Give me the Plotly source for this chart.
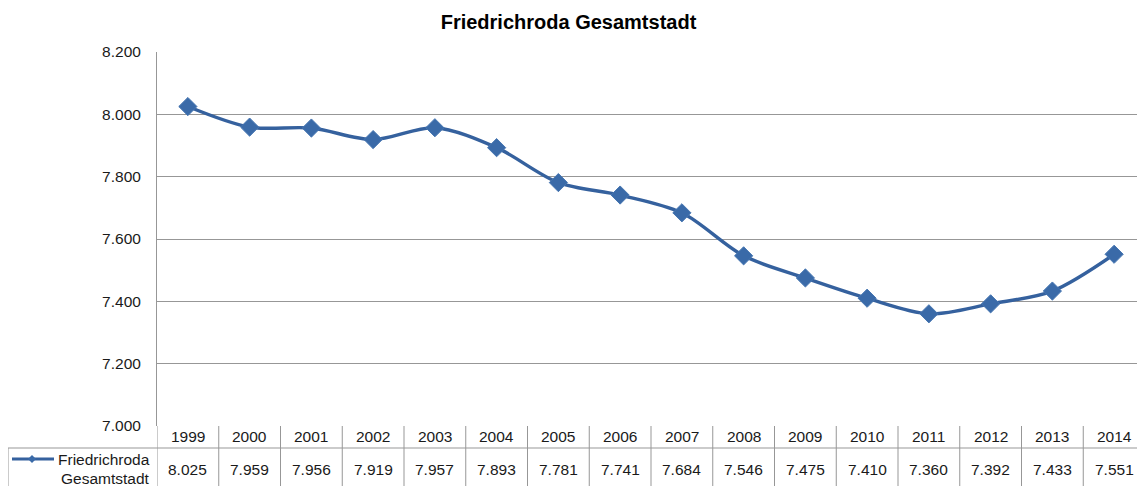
import plotly.graph_objects as go

years = ["1999", "2000", "2001", "2002", "2003", "2004", "2005", "2006",
         "2007", "2008", "2009", "2010", "2011", "2012", "2013", "2014"]
values = [8025, 7959, 7956, 7919, 7957, 7893, 7781, 7741,
          7684, 7546, 7475, 7410, 7360, 7392, 7433, 7551]
series_name = "Friedrichroda Gesamtstadt"
title_text = "Friedrichroda Gesamtstadt"

# page offset (default body margin of the html page)
OFF = 8
W, H = 1145 - OFF, 486 - OFF
PL, PT, PB = 157, 52, 426      # plot area edges in page pixels
L, R, T = PL - OFF, 0, PT - OFF
B = H - (PB - OFF)
plot_h = H - T - B
plot_w = W - L - R

line_color = "#35619E"
marker_color = "#3A6AA8"
grid_color = "#979797"
font_family = "Liberation Sans, Arial, sans-serif"
fs = 15.5

n = len(years)
xs = list(range(n))

fig = go.Figure()
fig.add_trace(go.Scatter(
    x=xs, y=values, mode="lines+markers",
    line=dict(color=line_color, width=3.4, shape="spline", smoothing=0.9),
    marker=dict(symbol="diamond", size=14, color=marker_color,
                line=dict(color="#4676B2", width=1)),
    name=series_name, showlegend=False, hoverinfo="y"))

def py(page_y):
    return (PB - page_y) / plot_h

def pxx(page_x):
    return (page_x - PL) / plot_w

shapes = []
annotations = []
y_top = py(426)
y_mid = py(448)
y_bot = py(486)
for i in range(n + 1):
    shapes.append(dict(type="line", xref="x", yref="paper",
                       x0=i - 0.5, x1=i - 0.5, y0=y_top, y1=y_bot,
                       line=dict(color=grid_color, width=1)))
shapes.append(dict(type="line", xref="paper", yref="paper",
                   x0=pxx(8), x1=1, y0=y_mid, y1=y_mid,
                   line=dict(color=grid_color, width=1)))
shapes.append(dict(type="line", xref="paper", yref="paper",
                   x0=pxx(8), x1=pxx(8), y0=y_mid, y1=y_bot,
                   line=dict(color=grid_color, width=1)))
shapes.append(dict(type="line", xref="paper", yref="paper",
                   x0=pxx(12), x1=pxx(54), y0=py(459), y1=py(459),
                   line=dict(color=line_color, width=3)))
shapes.append(dict(type="path", xref="paper", yref="paper",
                   path="M {} {} L {} {} L {} {} L {} {} Z".format(
                       pxx(28), py(459), pxx(32), py(455),
                       pxx(36), py(459), pxx(32), py(463)),
                   fillcolor=marker_color, line=dict(color=marker_color, width=0)))

tf = dict(size=fs, color="#1a1a1a", family=font_family)
for i, (yr, v) in enumerate(zip(years, values)):
    annotations.append(dict(x=i, y=py(437), xref="x", yref="paper",
                            xanchor="center", yanchor="middle",
                            text=yr, showarrow=False, font=tf))
    s = f"{v:,}".replace(",", ".")
    annotations.append(dict(x=i, y=py(469), xref="x", yref="paper",
                            xanchor="center", yanchor="middle",
                            text=s, showarrow=False, font=tf))

annotations.append(dict(x=pxx(152), y=py(460), xref="paper", yref="paper",
                        text="Friedrichroda", showarrow=False, xanchor="right",
                        yanchor="middle", font=tf))
annotations.append(dict(x=pxx(152), y=py(478), xref="paper", yref="paper",
                        text="Gesamtstadt", showarrow=False, xanchor="right",
                        yanchor="middle", font=tf))

fig.update_layout(
    width=W, height=H,
    margin=dict(l=L, r=R, t=T, b=B, pad=0),
    paper_bgcolor="white", plot_bgcolor="white",
    separators=",.",
    title=dict(text="<b>" + title_text + "</b>",
               x=((440 + 697) / 2 - OFF) / W, xanchor="center",
               y=1 - (22 - OFF) / H, yanchor="middle",
               font=dict(size=20, color="black", family=font_family)),
    xaxis=dict(range=[-0.5, n - 0.5], showticklabels=False, showgrid=False,
               zeroline=False, showline=False, ticks=""),
    yaxis=dict(range=[7000, 8200], dtick=200, tickformat=",d",
               showgrid=True, gridcolor=grid_color, gridwidth=1,
               zeroline=False, showline=True, linecolor=grid_color, linewidth=1,
               ticks="", ticklabelstandoff=12,
               tickfont=tf),
    shapes=shapes, annotations=annotations, showlegend=False,
)

fig.write_html("out.html")
